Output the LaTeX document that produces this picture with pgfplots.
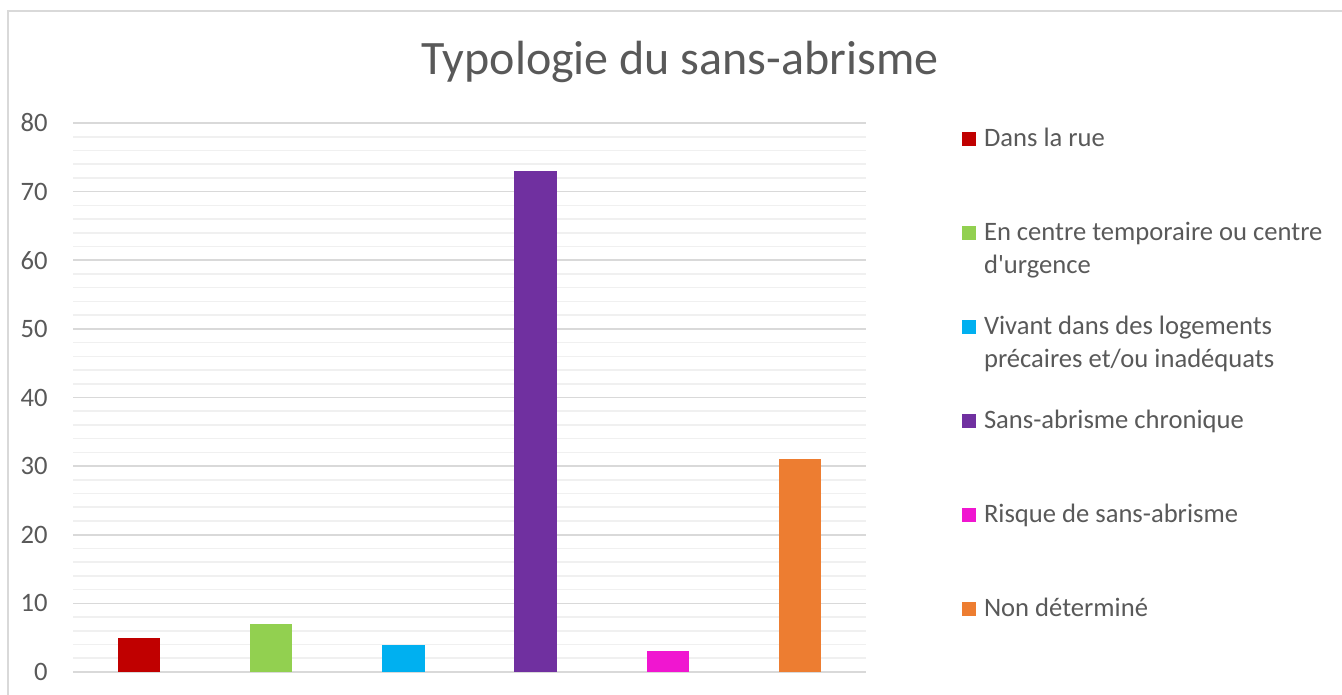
\documentclass[border=0pt]{standalone}
\usepackage{pgfplots}
\pgfplotsset{compat=1.18}
\usepackage{fontspec}
\setmainfont{Carlito}
\definecolor{txt}{HTML}{595959}
\definecolor{majg}{HTML}{D9D9D9}
\definecolor{ming}{HTML}{F0F0F0}
\definecolor{bord}{HTML}{D9D9D9}
\definecolor{c1}{HTML}{C00000}
\definecolor{c2}{HTML}{92D050}
\definecolor{c3}{HTML}{00B0F0}
\definecolor{c4}{HTML}{7030A0}
\definecolor{c5}{HTML}{F016D0}
\definecolor{c6}{HTML}{ED7D31}
\pgfplotsset{
  mybar/.style={ybar, bar width=0.32, bar shift=0pt, draw=none, fill=#1,
    legend image code/.code={\fill[fill=#1] (0pt,13.5pt) rectangle (7pt,20.5pt);}}
}
\newcommand{\twolines}[2]{\vtop{\hbox{#1}\hbox{#2}}}
\begin{document}
\begin{tikzpicture}
\useasboundingbox (0pt,0pt) rectangle (671pt,347.5pt);
\draw[bord, line width=0.9pt] (4pt,-20pt) -- (4pt,342pt) -- (700pt,342pt);
\node[font=\fontsize{24}{28}\selectfont, text=txt, anchor=base, inner sep=0pt] at (340pt,310pt) {Typologie du sans-abrisme};
\begin{axis}[
  at={(36.5pt,11.5pt)}, anchor=south west,
  scale only axis, width=396.5pt, height=274.5pt,
  xmin=-0.5, xmax=5.5, ymin=0, ymax=80,
  xtick=\empty,
  ytick={0,10,...,80}, minor y tick num=4,
  ymajorgrids, yminorgrids,
  major grid style={majg, line width=0.8pt},
  minor grid style={ming, line width=0.8pt},
  axis line style={draw=none},
  major tick length=0pt, minor tick length=0pt,
  /pgf/number format/assume math mode=true,
  yticklabel style={font=\fontsize{13.3}{15}\selectfont, text=txt, inner sep=0pt, anchor=east, xshift=-12.5pt},
  legend style={draw=none, fill=none, inner sep=0pt, outer sep=0pt,
    at={(1.1211,0.9945)}, anchor=north west, row sep=0pt, column sep=4pt,
    font=\fontsize{13.3}{16.5}\selectfont, text=txt,
    nodes={inner sep=0pt, outer sep=0pt, text height=10pt, text depth=37pt}},
  legend cell align=left,
]
\addplot[mybar=c1] coordinates {(0,5)};
\addlegendentry{Dans la rue}
\addplot[mybar=c2] coordinates {(1,7)};
\addlegendentry{\twolines{En centre temporaire ou centre}{d\textquotesingle urgence}}
\addplot[mybar=c3] coordinates {(2,4)};
\addlegendentry{\twolines{Vivant dans des logements}{précaires et/ou inadéquats}}
\addplot[mybar=c4] coordinates {(3,73)};
\addlegendentry{Sans-abrisme chronique}
\addplot[mybar=c5] coordinates {(4,3)};
\addlegendentry{Risque de sans-abrisme}
\addplot[mybar=c6] coordinates {(5,31)};
\addlegendentry{Non déterminé}
\end{axis}
\end{tikzpicture}
\end{document}
